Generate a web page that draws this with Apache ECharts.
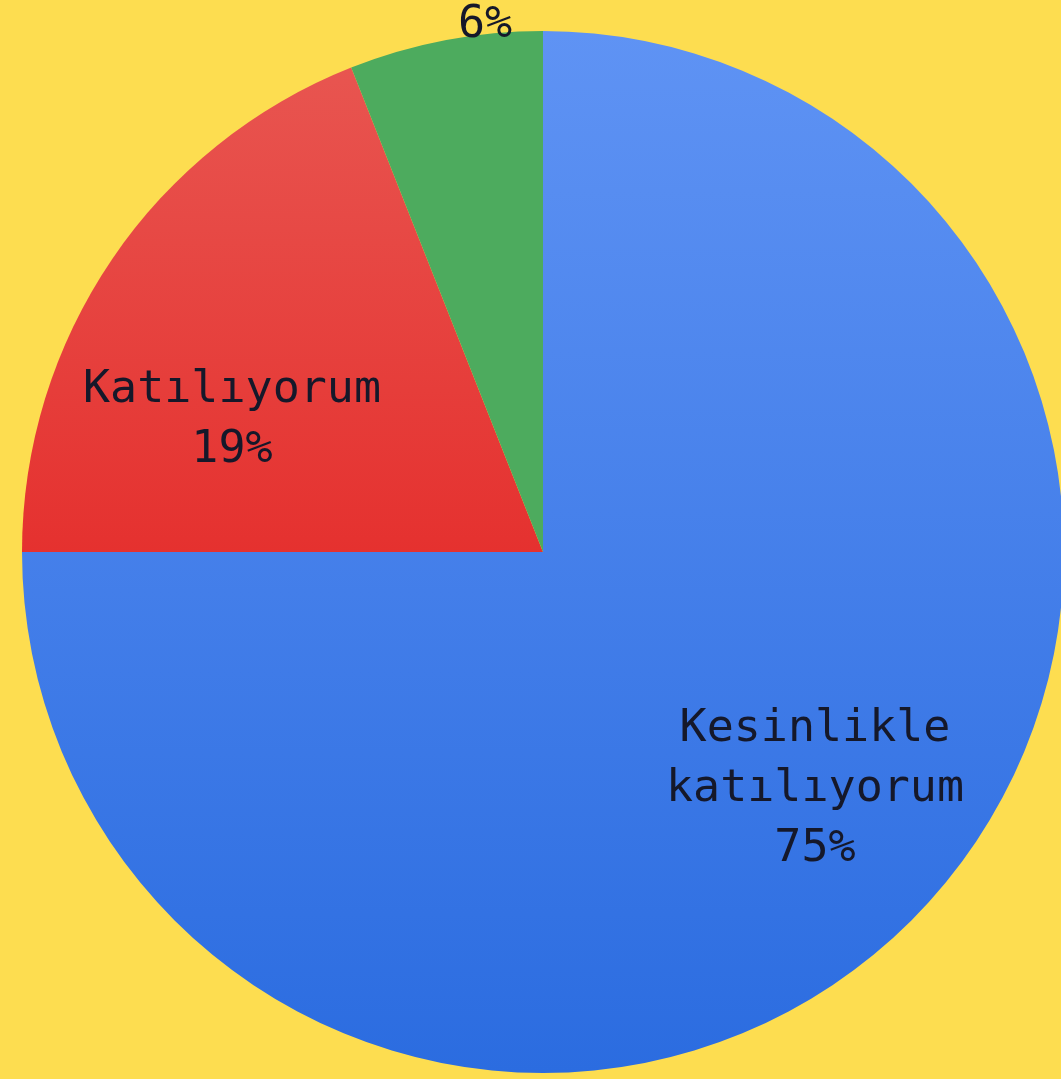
<!DOCTYPE html>
<html><head><meta charset="utf-8">
<script src="https://cdn.jsdelivr.net/npm/echarts@6/dist/echarts.min.js"></script>
<style>html,body{margin:0;padding:0;background:#fddd50;}#c{width:1061px;height:1079px;}</style>
</head><body><div id="c"></div>
<script>
const categories = ['Kesinlikle\nkatılıyorum', 'Katılıyorum', 'Kararsızım'];
const values = [75, 19, 6];
const showName = [true, true, false];
const labelCenters = [[815, 789], [232, 420], [485, 25]];

const chart = echarts.init(document.getElementById('c'));
const colors = [
  new echarts.graphic.LinearGradient(0, 0, 0, 1, [{offset: 0, color: '#5f93f4'}, {offset: 1, color: '#2b6ce0'}]),
  new echarts.graphic.LinearGradient(0, 0, 0, 1, [{offset: 0, color: '#e85550'}, {offset: 1, color: '#e5312f'}]),
  '#4dab5e'
];
chart.setOption({
  backgroundColor: '#fddd50',
  animation: false,
  series: [{
    type: 'pie',
    center: [543, 552],
    radius: 521,
    startAngle: 90,
    clockwise: true,
    label: {
      show: true,
      position: 'inside',
      fontFamily: 'DejaVu Sans Mono',
      fontSize: 45,
      lineHeight: 60,
      color: '#15182a',
      align: 'center',
      formatter: p => (showName[p.dataIndex] ? p.name + '\n' : '') + p.percent.toFixed(0) + '%'
    },
    labelLine: {show: false},
    labelLayout: p => ({x: labelCenters[p.dataIndex][0], y: labelCenters[p.dataIndex][1], align: 'center', verticalAlign: 'middle'}),
    data: categories.map((c, i) => ({name: c, value: values[i], itemStyle: {color: colors[i]}}))
  }]
});
</script></body></html>
